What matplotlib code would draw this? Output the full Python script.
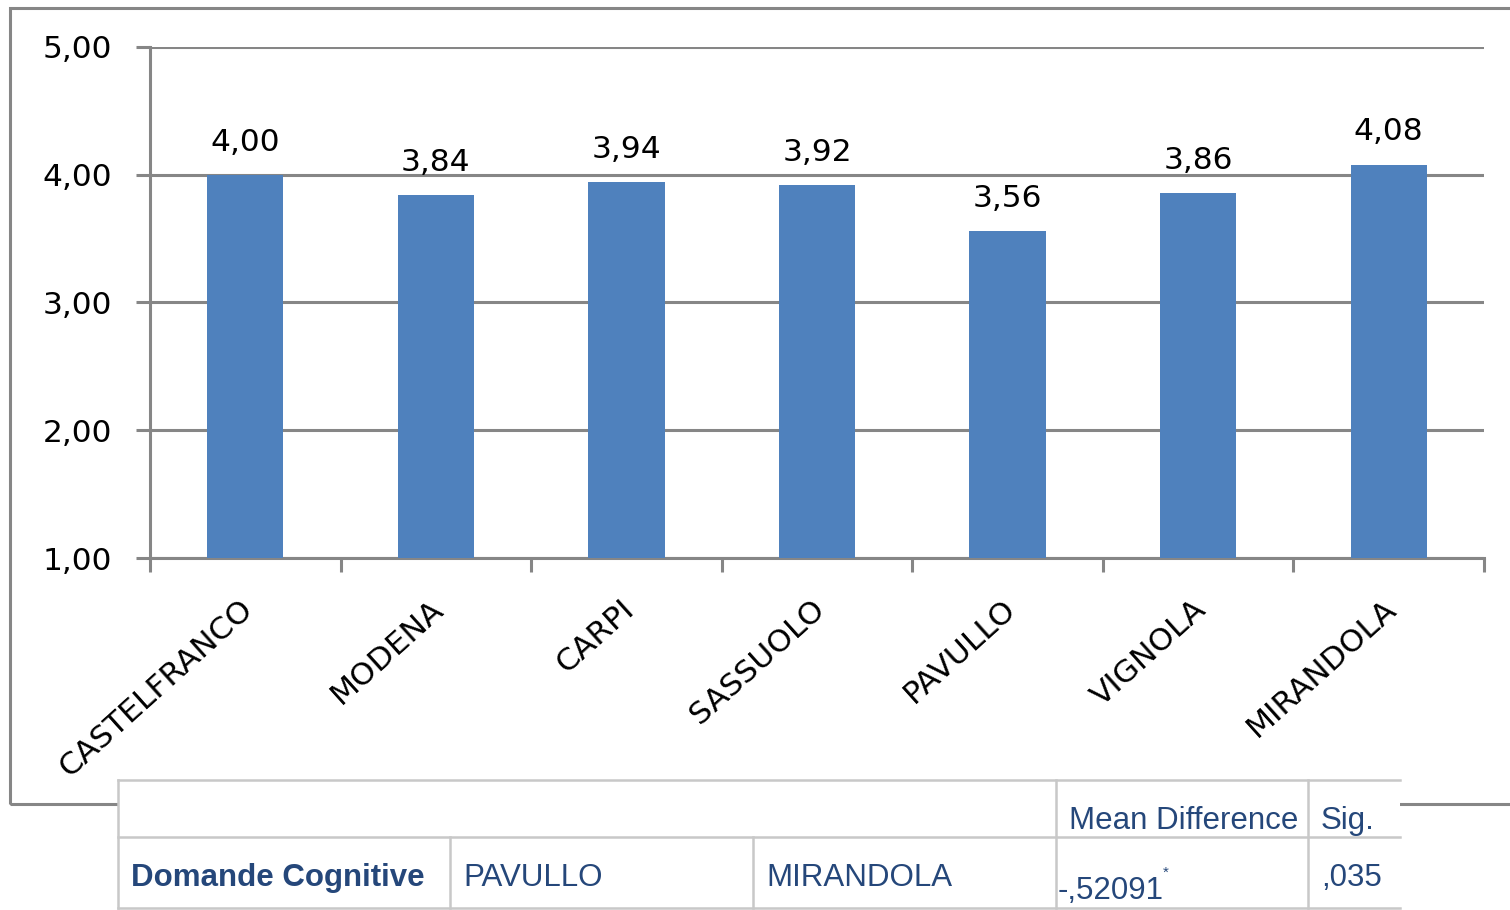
import matplotlib
matplotlib.use('Agg')
import matplotlib.pyplot as plt
import matplotlib.transforms as mtransforms
from matplotlib.lines import Line2D
from matplotlib.patches import Rectangle
import numpy as np

# -------- DATA --------
categories = ['CASTELFRANCO', 'MODENA', 'CARPI', 'SASSUOLO', 'PAVULLO', 'VIGNOLA', 'MIRANDOLA']
means = [4.00, 3.84, 3.94, 3.92, 3.56, 3.86, 4.08]
yticks = [1, 2, 3, 4, 5]

table_header = ['', '', '', 'Mean Difference', 'Sig.']
table_row = ['Domande Cognitive', 'PAVULLO', 'MIRANDOLA', '-,52091', ',035']
# -------- DATA. --------

W, H = 1510, 910
gray = '#868686'
barColor = '#4F81BD'
tableText = '#25477a'
tableLine = '#c8c8c8'
chartFont = 'DejaVu Sans'
tableFont = 'Liberation Sans'
chartSize = 22.5


def fx(px):
    return px / W


def fy(py):
    return 1 - py / H


def comma(v):
    return '{:.2f}'.format(v).replace('.', ',')


fig = plt.figure(figsize=(W / 100, H / 100), dpi=100, facecolor='w')

# ---- Outer chart frame
fig.patches.append(Rectangle((fx(10), fy(804)), fx(1560), fy(8) - fy(804), transform=fig.transFigure,
                             fill=False, edgecolor=gray, linewidth=2.2, zorder=0))

# ---- Main axes
ax = fig.add_axes([fx(150), fy(558), fx(1484) - fx(150), fy(47) - fy(558)])
x = np.arange(len(categories))
ax.bar(x, means, width=0.4, color=barColor, zorder=3)
ax.set_xlim(-0.5, len(categories) - 0.5)
ax.set_ylim(1, 5)

ax.set_yticks(yticks)
ax.set_yticklabels([comma(v) for v in yticks], fontsize=chartSize, family=chartFont)
ax.yaxis.grid(True, color=gray, linewidth=2.2, zorder=0)
ax.tick_params(axis='y', length=10, width=2.2, color=gray, pad=17)

ax.set_xticks(x)
ax.set_xticklabels(categories, rotation=42, ha='right', va='top', rotation_mode='anchor',
                   fontsize=chartSize, family=chartFont)
ax.tick_params(axis='x', length=0, pad=26)
shift = mtransforms.ScaledTranslation(-6 / 100, 0, fig.dpi_scale_trans)
for lbl in ax.get_xticklabels():
    lbl.set_transform(lbl.get_transform() + shift)
ax.set_xticks(np.arange(len(categories) + 1) - 0.5, minor=True)
ax.tick_params(axis='x', which='minor', length=10, width=2.2, color=gray)

for side in ['top', 'right']:
    ax.spines[side].set_visible(False)
for side in ['left', 'bottom']:
    ax.spines[side].set_color(gray)
    ax.spines[side].set_linewidth(2.2)

for xi, v in zip(x, means):
    ax.annotate(comma(v), (xi, v), xytext=(0, 13), textcoords='offset points', ha='center', va='bottom',
                fontsize=chartSize, family=chartFont, zorder=4)

# ---- Table overlay
fig.patches.append(Rectangle((fx(118), fy(910)), fx(1400) - fx(118), fy(780) - fy(910),
                             transform=fig.transFigure, facecolor='white', edgecolor='none', zorder=5))

hlines = [780, 837, 908]
for yy in hlines:
    fig.lines.append(Line2D([fx(118), fx(1400)], [fy(yy), fy(yy)], transform=fig.transFigure,
                            color=tableLine, linewidth=1.8, zorder=6))
vlines = [(118, 780), (450, 837), (753, 837), (1056, 780), (1308, 780)]
for xx, ytop in vlines:
    fig.lines.append(Line2D([fx(xx), fx(xx)], [fy(ytop), fy(908)], transform=fig.transFigure,
                            color=tableLine, linewidth=1.8, zorder=6))

fig.text(fx(1069), fy(821), table_header[3], fontsize=22.5, family=tableFont, color=tableText,
         va='center', zorder=7)
fig.text(fx(1321), fy(821), table_header[4], fontsize=22.5, family=tableFont, color=tableText,
         va='center', zorder=7)

fig.text(fx(131), fy(878), table_row[0], fontsize=22.5, family=tableFont, weight='bold',
         color=tableText, va='center', zorder=7)
fig.text(fx(463), fy(878), table_row[1], fontsize=22.5, family=tableFont, color=tableText,
         va='center', zorder=7)
fig.text(fx(766), fy(878), table_row[2], fontsize=22.5, family=tableFont, color=tableText,
         va='center', zorder=7)
fig.text(fx(1058), fy(891), table_row[3], fontsize=22.5, family=tableFont, color=tableText,
         va='center', zorder=7)
fig.text(fx(1163), fy(873), '*', fontsize=11, family=tableFont, color=tableText,
         va='center', zorder=7)
fig.text(fx(1321), fy(878), table_row[4], fontsize=22.5, family=tableFont, color=tableText,
         va='center', zorder=7)

plt.savefig('out.png', dpi=100)
plt.close()
